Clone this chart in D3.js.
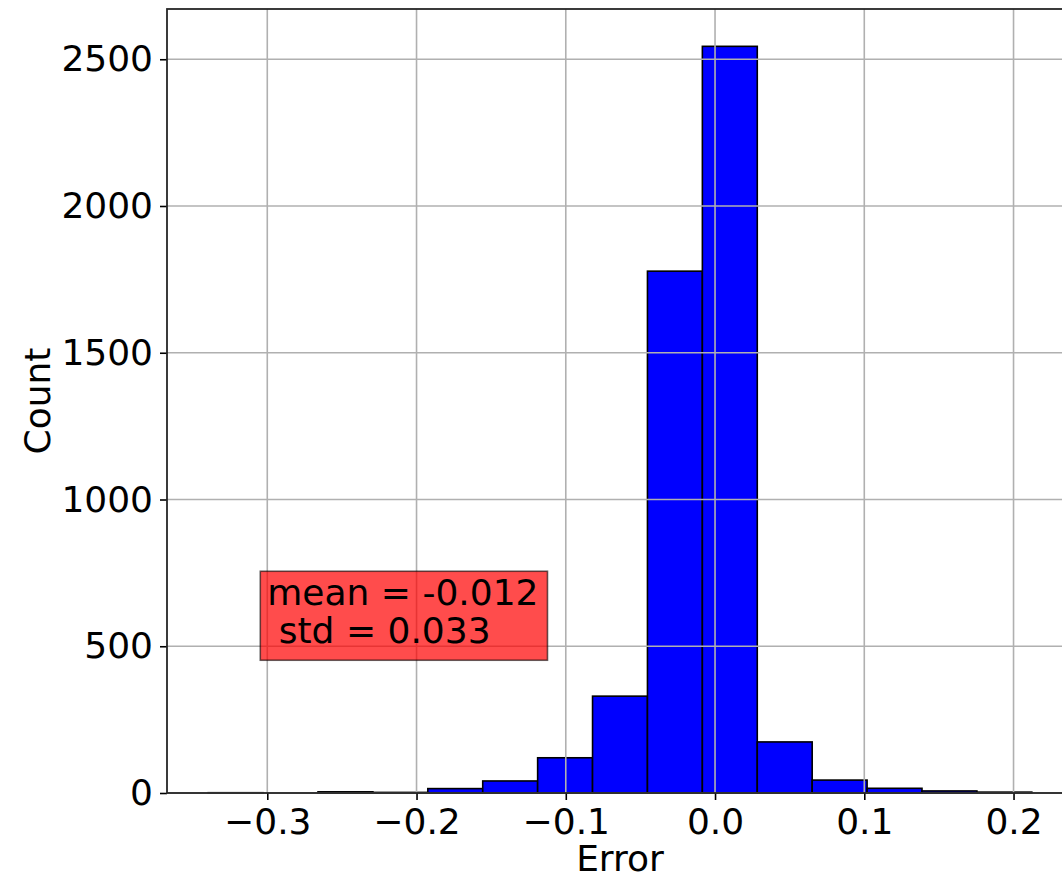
<!DOCTYPE html>
<html>
<head>
<meta charset="utf-8">
<script src="https://cdn.jsdelivr.net/npm/d3@7"></script>
<style>
  html, body { margin: 0; padding: 0; background: #fff; }
  text { font-family: "DejaVu Sans", sans-serif; }
</style>
</head>
<body>
<svg id="chart" width="1062" height="878"></svg>
<script>
// Histogram bin edges (15 bins) and counts
const binStart = -0.3396;
const binWidth = 0.03679;
const counts = [1, 0, 4, 2, 15, 41, 120, 330, 1778, 2544, 174, 44, 16, 7, 3];
const xTicks = [-0.3, -0.2, -0.1, 0.0, 0.1, 0.2];
const yTicks = [0, 500, 1000, 1500, 2000, 2500];
const annotationLines = ["mean = -0.012", " std = 0.033"];
const annotationAt = [-0.3, 500];
const xLabel = "Error";
const yLabel = "Count";

const bins = counts.map((c, i) => ({x0: binStart + i * binWidth, x1: binStart + (i + 1) * binWidth, count: c}));

const margin = {left: 167, top: 9, right: 1073, bottom: 793};
const xMin = bins[0].x0, xMax = bins[bins.length - 1].x1;
const xPad = (xMax - xMin) * 0.05;
const x = d3.scaleLinear().domain([xMin - xPad, xMax + xPad]).range([margin.left, margin.right]);
const y = d3.scaleLinear().domain([0, d3.max(counts) * 1.05]).range([margin.bottom, margin.top]);

const svg = d3.select("#chart");

// bars
svg.append("g").selectAll("rect").data(bins).join("rect")
  .attr("x", d => x(d.x0))
  .attr("width", d => x(d.x1) - x(d.x0))
  .attr("y", d => y(d.count))
  .attr("height", d => y(0) - y(d.count))
  .attr("fill", "#0000ff")
  .attr("stroke", "#000")
  .attr("stroke-width", 1.6);

// grid (on top of bars)
const grid = svg.append("g").attr("stroke", "#b0b0b0").attr("stroke-width", 1.6);
grid.selectAll("line.v").data(xTicks).join("line").attr("class", "v")
  .attr("x1", d => x(d)).attr("x2", d => x(d))
  .attr("y1", margin.top).attr("y2", margin.bottom);
grid.selectAll("line.h").data(yTicks).join("line").attr("class", "h")
  .attr("y1", d => y(d)).attr("y2", d => y(d))
  .attr("x1", margin.left).attr("x2", margin.right);

// axes
const fmtX = v => (v < 0 ? "\u2212" : "") + Math.abs(v).toFixed(1);
const xAxis = svg.append("g").attr("transform", `translate(0,${margin.bottom})`)
  .call(d3.axisBottom(x).tickValues(xTicks).tickFormat(fmtX).tickSize(7).tickPadding(8).tickSizeOuter(0));
const yAxis = svg.append("g").attr("transform", `translate(${margin.left},0)`)
  .call(d3.axisLeft(y).tickValues(yTicks).tickFormat(d3.format("d")).tickSize(7).tickPadding(7).tickSizeOuter(0));
[xAxis, yAxis].forEach(a => {
  a.select(".domain").remove();
  a.selectAll(".tick line").attr("stroke", "#000").attr("stroke-width", 1.6);
  a.selectAll(".tick text").attr("fill", "#000").style("font-size", "36px").style("font-family", "DejaVu Sans");
});

// spines
svg.append("rect")
  .attr("x", margin.left).attr("y", margin.top)
  .attr("width", margin.right - margin.left).attr("height", margin.bottom - margin.top)
  .attr("fill", "none").attr("stroke", "#262626").attr("stroke-width", 1.8);

// labels
svg.append("text")
  .attr("x", (margin.left + margin.right) / 2).attr("y", 871)
  .attr("text-anchor", "middle").style("font-size", "36px").text(xLabel);
svg.append("text")
  .attr("transform", `translate(50,${(margin.top + margin.bottom) / 2}) rotate(-90)`)
  .attr("text-anchor", "middle").style("font-size", "36px").text(yLabel);

// annotation box
const ax = x(annotationAt[0]), ay = y(annotationAt[1]) - 3;
const lineH = 38;
const ann = svg.append("g");
const box = ann.append("rect");
const txt = ann.append("text").style("font-size", "36px").attr("fill", "#000").attr("xml:space", "preserve").style("white-space", "pre");
annotationLines.forEach((l, i) => {
  txt.append("tspan").attr("x", ax).attr("y", ay - (annotationLines.length - 1 - i) * lineH).text(l);
});
const bb = txt.node().getBBox();
box.attr("x", bb.x - 7).attr("y", bb.y - 1)
  .attr("width", bb.width + 16).attr("height", bb.height + 10)
  .attr("fill", "rgba(255,0,0,0.7)").attr("stroke", "rgba(0,0,0,0.6)").attr("stroke-width", 1.6);
</script>
</body>
</html>
